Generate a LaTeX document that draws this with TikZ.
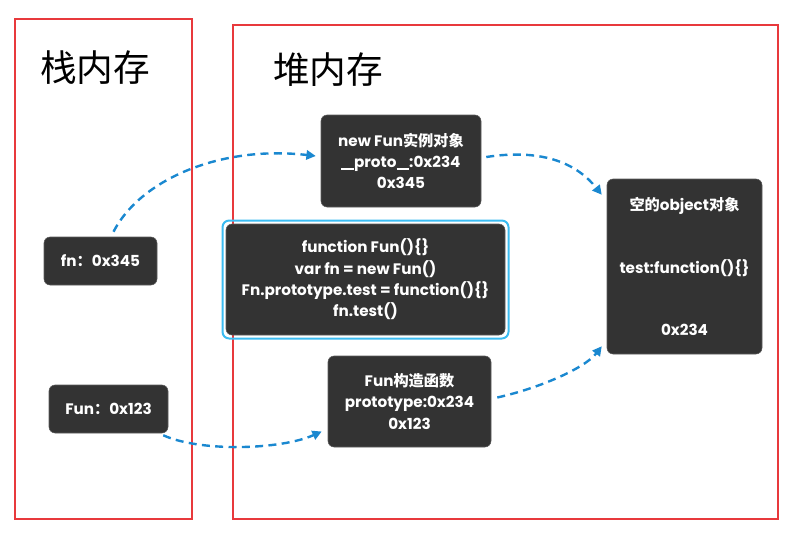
\documentclass[tikz,border=0pt]{standalone}
\usepackage{fontspec}
\setmainfont{Poppins}
\newfontfamily\cjk{Noto Sans CJK SC}
\usetikzlibrary{arrows.meta,calc}
\definecolor{boxgray}{HTML}{333333}
\definecolor{memred}{HTML}{E8393C}
\definecolor{arrowblue}{HTML}{1A88D0}
\definecolor{framecyan}{HTML}{3BBCF2}
\newcommand{\uline}{\rule[-1.6pt]{9.5pt}{1.4pt}}
\tikzset{
  membox/.style={draw=memred, line width=0.8pt},
  darkbox/.style={fill=boxgray, draw=boxgray!80!white, rounded corners=4.5pt, text=white,
    font=\fontsize{11.4pt}{16pt}\selectfont\bfseries, align=center, inner sep=0pt},
  title/.style={font=\cjk\fontsize{27.5pt}{30pt}\selectfont, text=black},
  ptr/.style={draw=arrowblue, line width=1.8pt, dash pattern=on 6pt off 4pt,
    -{Triangle[length=7pt,width=7pt]}}
}
\begin{document}
\begin{tikzpicture}[x=0.75pt,y=-0.75pt]
\useasboundingbox (0,0) rectangle (809,542);
% memory regions
\draw[membox] (15,19) rectangle (192,519);
\draw[membox] (233,25) rectangle (778,519);
\node[title] (stack) at (95,68) {栈内存};
\node[title] (heap) at (328,70) {堆内存};
% nodes
\node[darkbox, minimum width=84.75pt, minimum height=36pt] (fn) at (100.5,261) {fn{\cjk ：}0x345};
\node[darkbox, minimum width=89.25pt, minimum height=36pt] (Fun) at (108.5,409) {Fun{\cjk ：}0x123};
\node[darkbox, minimum width=120pt, minimum height=69pt] (inst) at (401,161)
  {new Fun{\cjk 实例对象}\\\uline proto\uline:0x234\\0x345};
\node[draw=framecyan, line width=1.5pt, rounded corners=5pt, minimum width=214.5pt, minimum height=88.5pt] (codeframe) at (365.5,279.5) {};
\node[darkbox, minimum width=209.25pt, minimum height=83.25pt] (code) at (365.5,279.5)
  {function Fun()\{\}\\var fn = new Fun()\\Fn.prototype.test = function()\{\}\\fn.test()};
\node[darkbox, minimum width=122.25pt, minimum height=68.25pt] (ctor) at (409.5,401.5)
  {Fun{\cjk 构造函数}\\prototype:0x234\\0x123};
\node[darkbox, minimum width=116.25pt, minimum height=131.25pt] (obj) at (684.5,266.5)
  {{\cjk 空的}object{\cjk 对象}\\[31pt]test:function()\{\}\\[31pt]0x234};
% pointers
\draw[ptr] ($(fn.north)+(13,-5)$) .. controls (140,180) and (220,145) .. ($(inst.west)+(-5,-5)$);
\draw[ptr] ($(inst.east)+(5,-4)$) .. controls (545,148) and (578,165) .. ($(obj.north west)+(-5,16)$);
\draw[ptr] ($(Fun.south east)+(-5,2)$) .. controls (200,452) and (280,450) .. ($(ctor.west)+(-6,30)$);
\draw[ptr] ($(ctor.east)+(6,-4)$) .. controls (540,388) and (585,368) .. ($(obj.south west)+(-5,-8)$);
\end{tikzpicture}
\end{document}
